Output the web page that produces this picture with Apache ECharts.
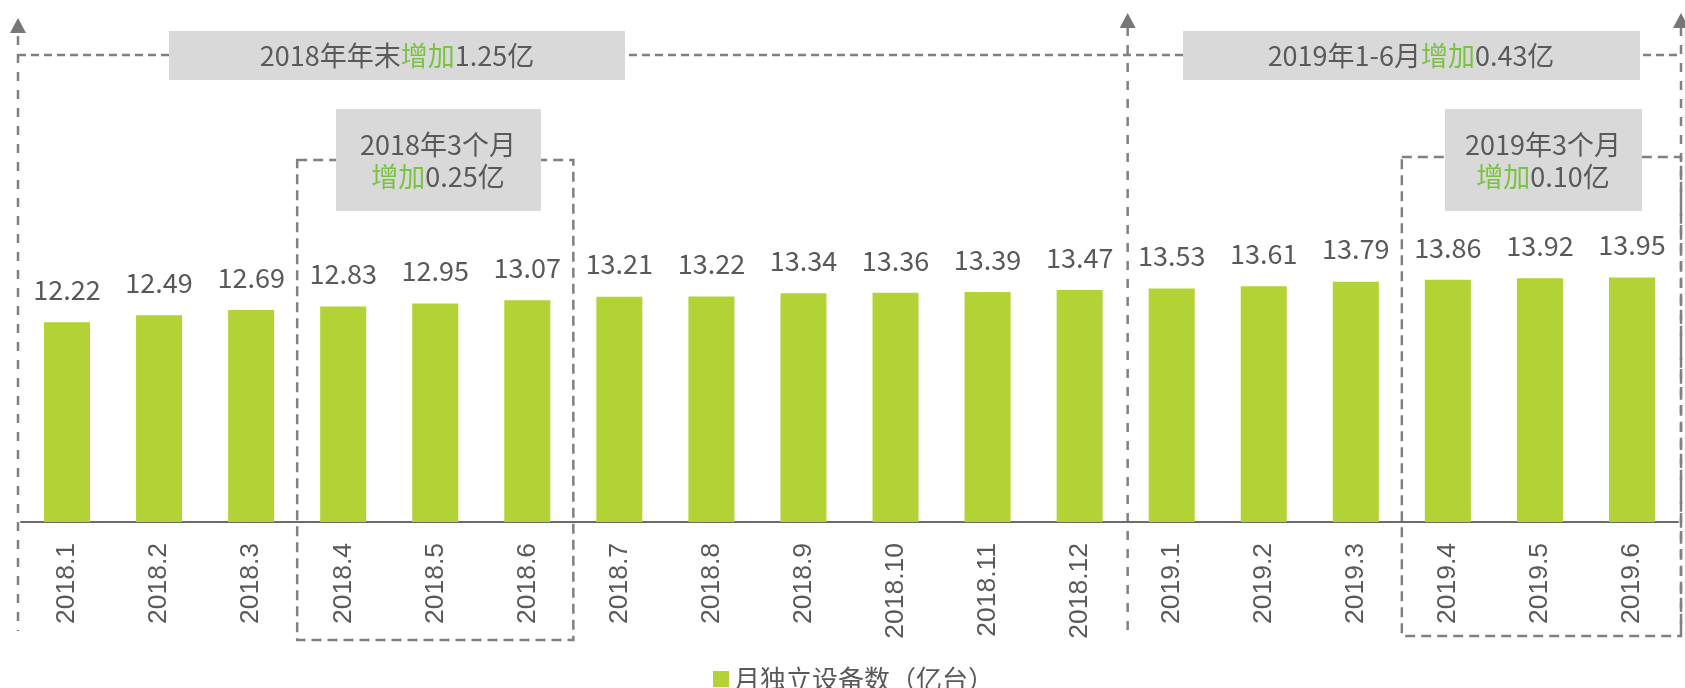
<!DOCTYPE html>
<html>
<head>
<meta charset="utf-8">
<script src="https://cdn.jsdelivr.net/npm/echarts@6/dist/echarts.min.js"></script>
<style>
  html, body { margin: 0; padding: 0; background: #fff; }
  #main { width: 1685px; height: 688px; }
</style>
</head>
<body>
<div id="main"></div>
<script>
// monthly data
const categories = ['2018.1', '2018.2', '2018.3', '2018.4', '2018.5', '2018.6',
    '2018.7', '2018.8', '2018.9', '2018.10', '2018.11', '2018.12',
    '2019.1', '2019.2', '2019.3', '2019.4', '2019.5', '2019.6'];
const deviceCounts = [12.22, 12.49, 12.69, 12.83, 12.95, 13.07, 13.21, 13.22, 13.34,
    13.36, 13.39, 13.47, 13.53, 13.61, 13.79, 13.86, 13.92, 13.95];
const seriesName = '月独立设备数（亿台）';
const noteTexts = ['2018年年末{g|增加}1.25亿', '2019年1-6月{g|增加}0.43亿',
    '2018年3个月\n{g|增加}0.25亿', '2019年3个月\n{g|增加}0.10亿'];

const textGray = '#595959';
const barGreen = '#b2d235';
const noteGreen = '#7cc242';
const dashGray = '#808080';
const cjkFont = '"Noto Sans CJK SC", "Noto Sans", sans-serif';

let chart = echarts.init(document.getElementById('main'));

const option = {
    animation: false,
    grid: { left: 21, right: 7, top: 121, bottom: 166 },
    legend: {
        data: [seriesName],
        left: 708,
        top: 661,
        icon: 'rect',
        itemWidth: 16,
        itemHeight: 16,
        itemGap: 8,
        textStyle: { color: textGray, fontSize: 26, fontFamily: cjkFont }
    },
    xAxis: {
        type: 'category',
        data: categories,
        axisLine: { lineStyle: { color: '#6b6b6b', width: 2 } },
        axisTick: { show: false },
        axisLabel: {
            rotate: 90,
            margin: 21,
            color: textGray,
            fontSize: 26.5,
            fontFamily: '"Liberation Sans", Arial, sans-serif'
        }
    },
    yAxis: {
        type: 'value',
        min: 4.5,
        max: 20,
        show: false,
        splitLine: { show: false }
    },
    series: [{
        name: seriesName,
        type: 'bar',
        data: deviceCounts,
        barWidth: '50%',
        itemStyle: { color: barGreen },
        label: {
            show: true,
            position: 'top',
            distance: 19,
            color: textGray,
            fontSize: 27,
            fontFamily: cjkFont,
            formatter: p => p.value.toFixed(2)
        }
    }]
};
chart.setOption(option);

// annotation brackets, placed from the category axis
function drawNotes() {
    const cx = i => chart.convertToPixel({ xAxisIndex: 0 }, categories[i]);
    const step = cx(1) - cx(0);
    const edge = i => (i < categories.length ? cx(i) : cx(categories.length - 1) + step) - step / 2;

    const xL = edge(0) - 3;
    const xM = edge(12) + 2;
    const xR = edge(18) + 3;
    const topY = 55;

    const dashed = (dash) => ({ stroke: dashGray, lineWidth: 2.5, lineDash: dash, fill: 'none' });
    const vLine = (x, y1, y2) => ({ type: 'line', shape: { x1: x, y1: y1, x2: x, y2: y2 }, style: dashed([9, 9]) });
    const arrow = (x, tip) => ({
        type: 'polygon',
        shape: { points: [[x, tip], [x - 8, tip + 15], [x + 8, tip + 15]] },
        style: { fill: '#777' }
    });
    const box = (x1, y1, x2, y2) => ({
        type: 'rect', shape: { x: x1, y: y1, width: x2 - x1, height: y2 - y1 },
        style: { fill: '#d9d9d9' }
    });
    const note = (text, x, y) => ({
        type: 'text',
        style: {
            text: text, x: x, y: y, align: 'center', verticalAlign: 'middle',
            fill: textGray, fontSize: 27, fontFamily: cjkFont, lineHeight: 32,
            rich: { g: { fill: noteGreen, fontSize: 27, fontFamily: cjkFont, lineHeight: 32 } }
        }
    });

    const s1a = edge(3), s1b = edge(6), s2a = edge(15);

    chart.setOption({
        graphic: [
            { type: 'line', shape: { x1: xL, y1: topY, x2: xR, y2: topY }, style: dashed([8, 5]) },
            vLine(xL, 36, 631),
            vLine(xM, 27, 631),
            vLine(xR, 27, 636),
            arrow(xL, 18),
            arrow(xM, 13),
            arrow(xR, 13),
            { type: 'rect', shape: { x: s1a, y: 160, width: s1b - s1a, height: 480 }, style: dashed([10, 6]) },
            { type: 'rect', shape: { x: s2a, y: 157, width: xR - s2a, height: 479 }, style: dashed([10, 6]) },
            box(169, 31, 625, 80),
            box(1183, 31, 1640, 80),
            box(336, 109, 541, 211),
            box(1445, 109, 1642, 211),
            note(noteTexts[0], 397, 56),
            note(noteTexts[1], 1411, 56),
            note(noteTexts[2], 438, 161),
            note(noteTexts[3], 1543, 161)
        ]
    });
}
drawNotes();
</script>
</body>
</html>
